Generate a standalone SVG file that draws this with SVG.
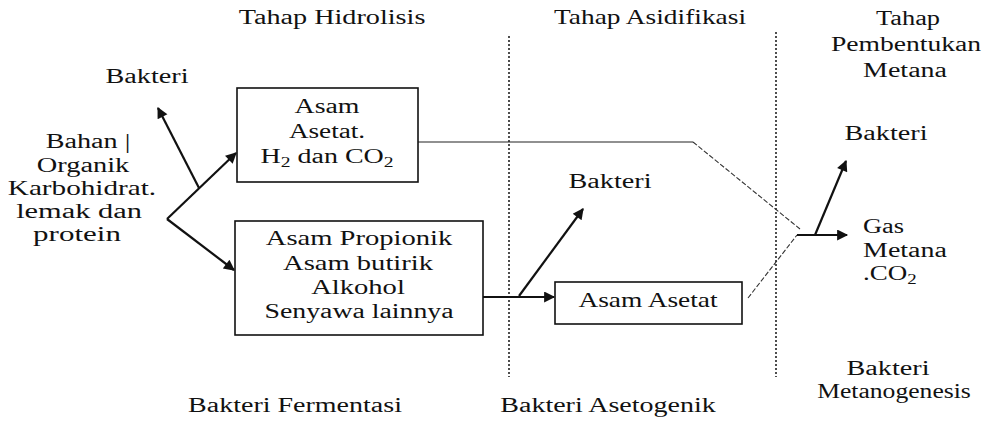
<svg xmlns="http://www.w3.org/2000/svg" width="987" height="425" viewBox="0 0 987 425">
<style>
text{font-family:'Liberation Serif','Times New Roman',serif;font-size:20px;fill:#111;text-anchor:middle}
.l{text-anchor:start}
.sub{font-size:14px}
.box{fill:#fff;stroke:#111;stroke-width:1.6}
.arr{fill:none;stroke:#111;stroke-width:2.2}
.thin{fill:none;stroke:#222;stroke-width:1.2}
.dash{fill:none;stroke:#333;stroke-width:1.1;stroke-dasharray:5 2}
.div{fill:none;stroke:#222;stroke-width:1.6;stroke-dasharray:2 2}
</style>
<defs>
<marker id="ah" viewBox="0 0 10 10" refX="9" refY="5" markerWidth="6" markerHeight="5" orient="auto" markerUnits="strokeWidth">
<path d="M0,0 L10,5 L0,10 Z" fill="#111"/>
</marker>
</defs>
<rect width="987" height="425" fill="#fff"/>

<g id="dividers">
<line class="div" x1="509" y1="36" x2="509" y2="377"/>
<line class="div" x1="776" y1="32" x2="776" y2="377"/>
</g>

<g id="titles">
<text transform="translate(332 24) scale(1.41 1)">Tahap Hidrolisis</text>
<text transform="translate(650 24) scale(1.37 1)">Tahap Asidifikasi</text>
<text transform="translate(908 25) scale(1.32 1)">Tahap</text>
<text transform="translate(906 51) scale(1.38 1)">Pembentukan</text>
<text transform="translate(905 77) scale(1.4 1)">Metana</text>
</g>

<g id="connectors">
<line class="arr" x1="167" y1="219" x2="236" y2="153" marker-end="url(#ah)"/>
<line class="arr" x1="199" y1="188" x2="158" y2="108" marker-end="url(#ah)"/>
<line class="arr" x1="167" y1="219" x2="234" y2="270" marker-end="url(#ah)"/>
<line class="arr" x1="483" y1="297" x2="554" y2="297" marker-end="url(#ah)"/>
<line class="arr" x1="519" y1="296" x2="583" y2="209" marker-end="url(#ah)"/>
<polyline class="thin" points="418,142 693,142"/>
<line class="dash" x1="693" y1="142" x2="800" y2="229"/>
<line class="dash" x1="748" y1="298" x2="797" y2="235"/>
<line class="arr" x1="797" y1="235" x2="847" y2="235" marker-end="url(#ah)"/>
<line class="arr" x1="815" y1="235" x2="846" y2="161" marker-end="url(#ah)"/>
</g>

<g id="bahan-organik">
<text transform="translate(88 148) scale(1.41 1)">Bahan |</text>
<text transform="translate(83 172) scale(1.42 1)">Organik</text>
<text transform="translate(82 195) scale(1.46 1)">Karbohidrat.</text>
<text transform="translate(79 218) scale(1.52 1)">lemak dan</text>
<text transform="translate(77 241) scale(1.55 1)">protein</text>
</g>

<g id="bakteri-hidrolisis">
<text transform="translate(147 83) scale(1.41 1)">Bakteri</text>
</g>

<g id="asam-asetat-h2-co2">
<rect class="box" x="237" y="88" width="181" height="94"/>
<text transform="translate(327 113) scale(1.39 1)">Asam</text>
<text transform="translate(327 138) scale(1.36 1)">Asetat.</text>
<text transform="translate(327 163) scale(1.4 1)">H<tspan class="sub" dy="4">2</tspan><tspan dy="-4"> dan CO</tspan><tspan class="sub" dy="4">2</tspan></text>
</g>

<g id="asam-propionik">
<rect class="box" x="235" y="221" width="248" height="114"/>
<text transform="translate(359 245) scale(1.43 1)">Asam Propionik</text>
<text transform="translate(358 270) scale(1.43 1)">Asam butirik</text>
<text transform="translate(358 294) scale(1.43 1)">Alkohol</text>
<text transform="translate(359 318) scale(1.39 1)">Senyawa lainnya</text>
</g>

<g id="bakteri-asidifikasi">
<text transform="translate(610 188) scale(1.41 1)">Bakteri</text>
</g>

<g id="asam-asetat">
<rect class="box" x="555" y="282" width="187" height="42"/>
<text transform="translate(648 307) scale(1.37 1)">Asam Asetat</text>
</g>

<g id="bakteri-metana">
<text transform="translate(886 140) scale(1.41 1)">Bakteri</text>
</g>

<g id="gas-metana">
<text class="l" transform="translate(863 233) scale(1.32 1)">Gas</text>
<text class="l" transform="translate(863 257) scale(1.4 1)">Metana</text>
<text class="l" transform="translate(863 280) scale(1.35 1)">.CO<tspan class="sub" dy="4">2</tspan></text>
</g>

<g id="labels-bakteri">
<text transform="translate(295 412) scale(1.4 1)">Bakteri Fermentasi</text>
<text transform="translate(608 412) scale(1.4 1)">Bakteri Asetogenik</text>
<text transform="translate(888 375) scale(1.41 1)">Bakteri</text>
<text transform="translate(894 398) scale(1.28 1)">Metanogenesis</text>
</g>
</svg>
